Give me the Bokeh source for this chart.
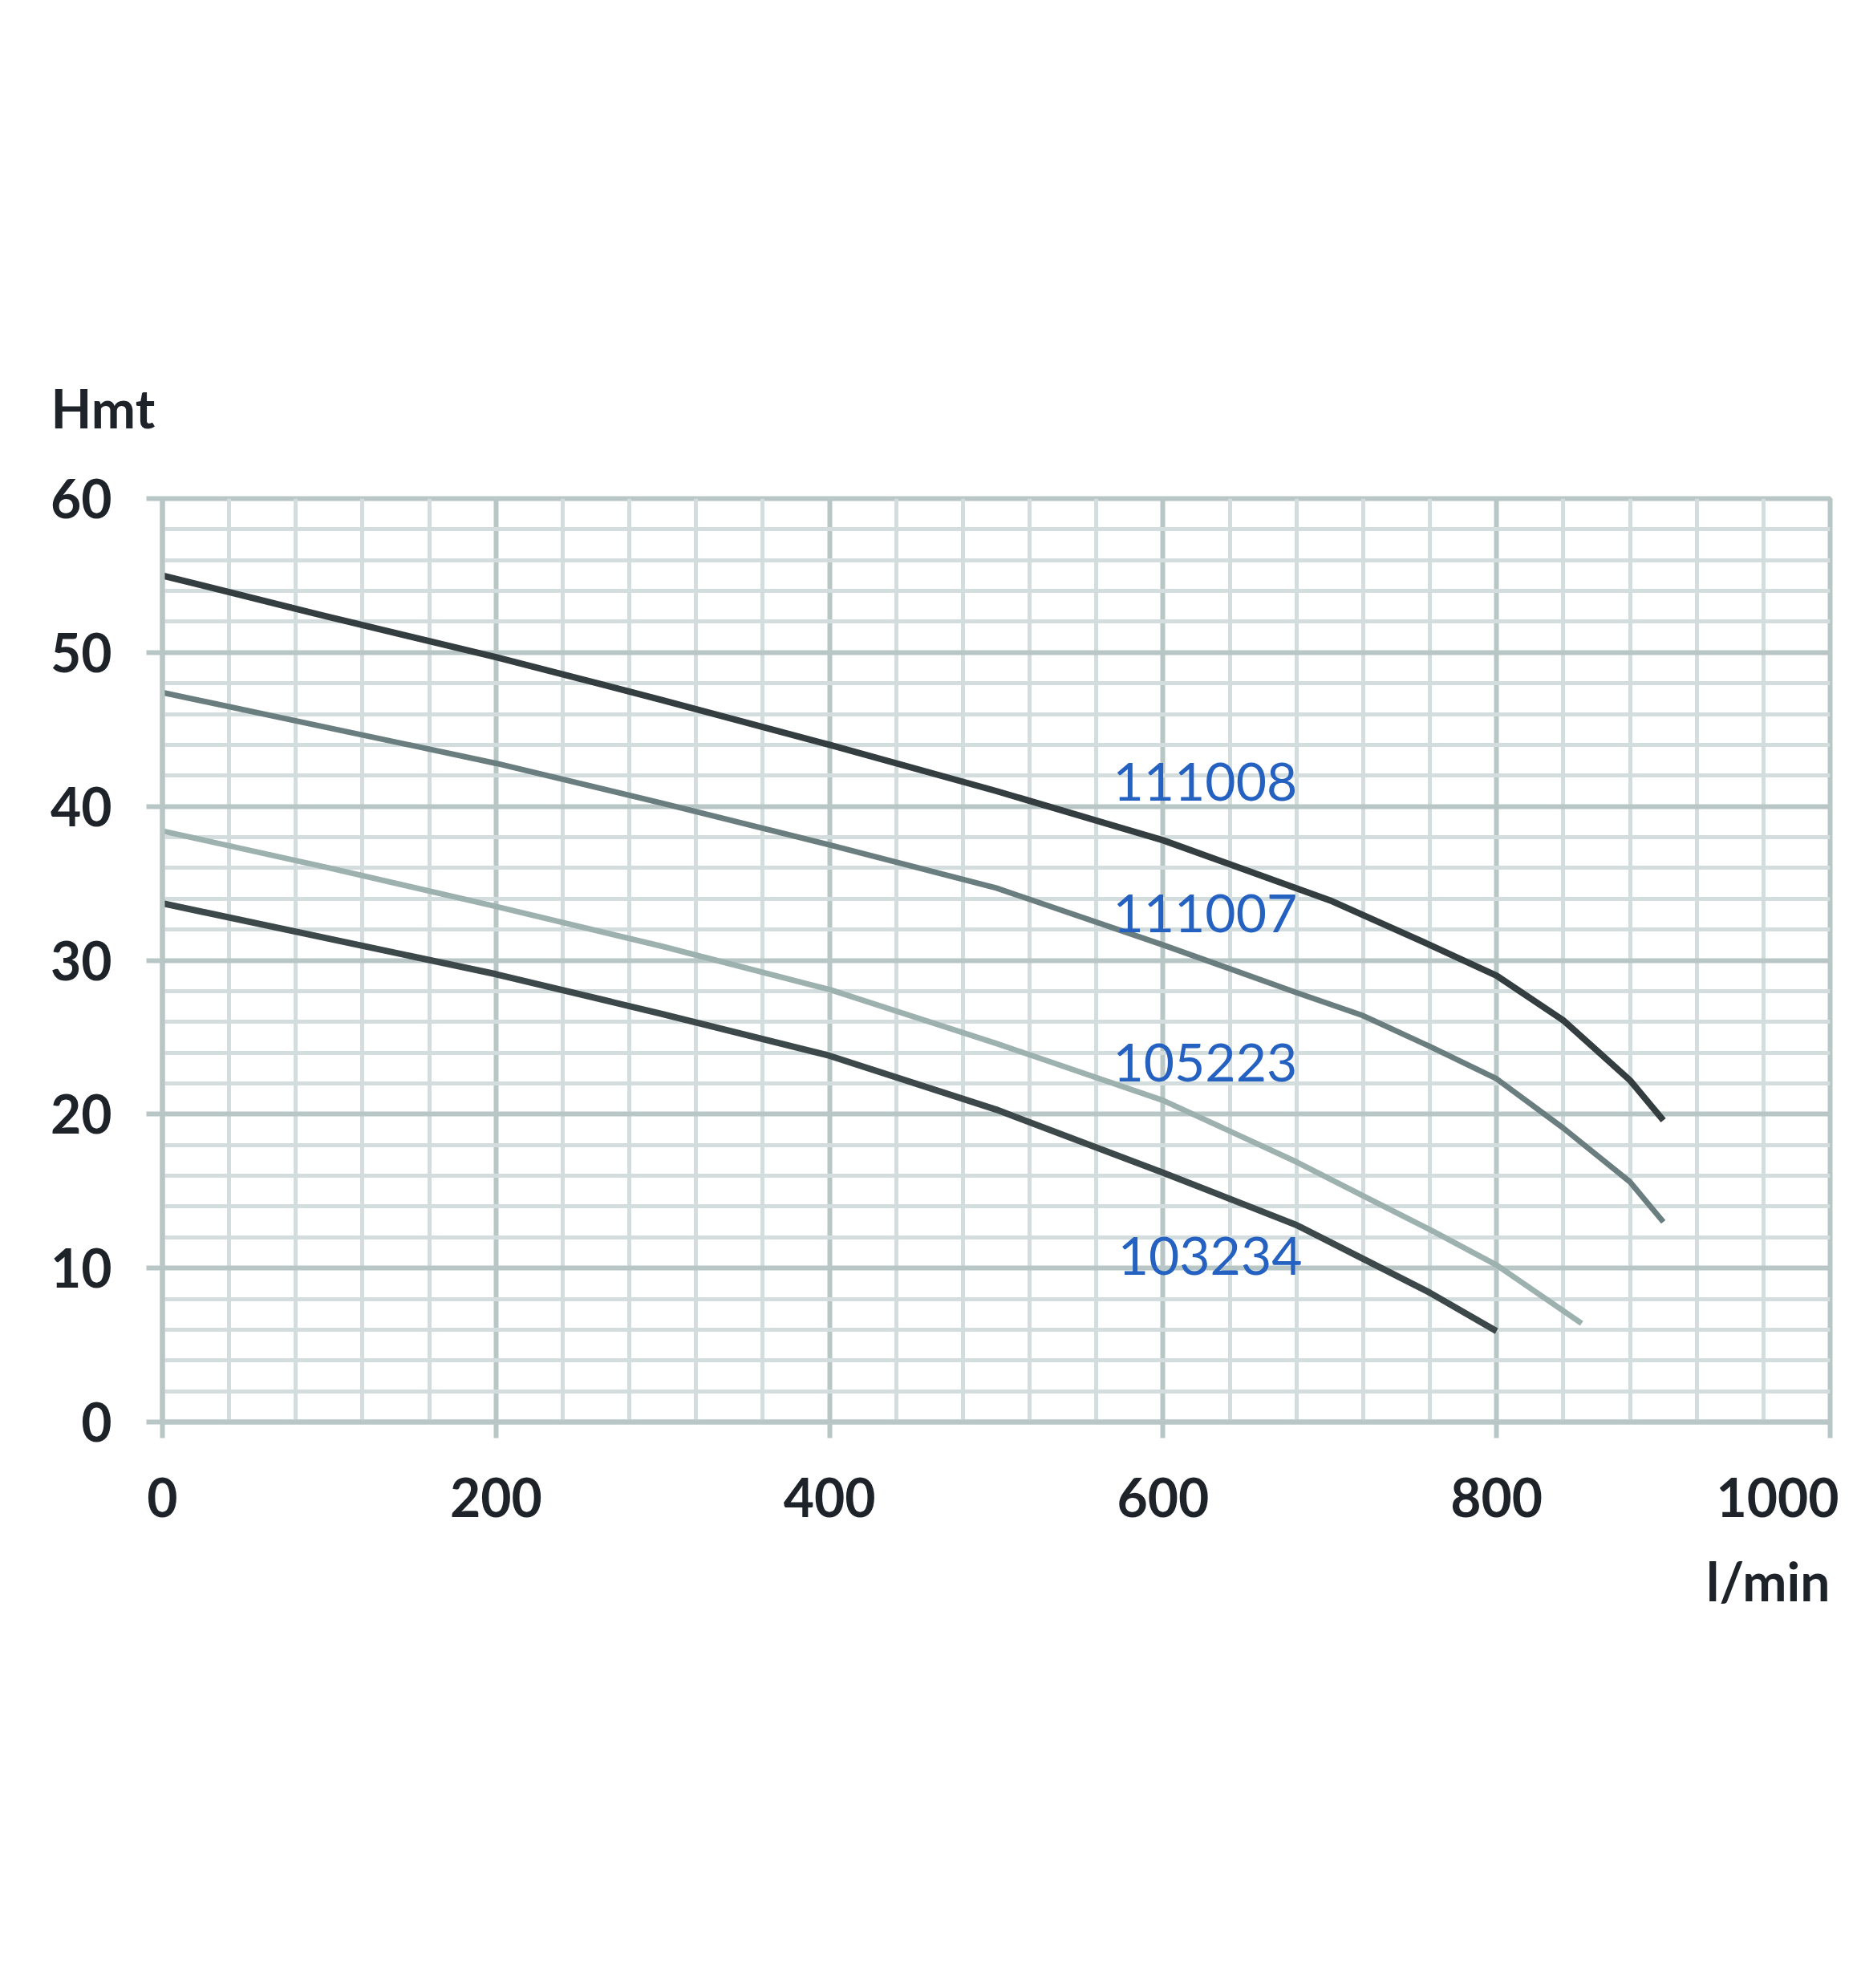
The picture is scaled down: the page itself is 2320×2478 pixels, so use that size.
from bokeh.plotting import figure
from bokeh.models import Range1d, SingleIntervalTicker, Title, ColumnDataSource
from bokeh.embed import file_html
from bokeh.resources import INLINE
from bokeh.core.properties import value

# ---- data ----
flow_111008 = [0, 100, 200, 300, 400, 500, 600, 700, 760, 800, 840, 880, 900]
head_111008 = [55.0, 52.3, 49.7, 46.9, 44.0, 41.0, 37.8, 33.9, 31.0, 29.0, 26.1, 22.2, 19.6]

flow_111007 = [0, 100, 200, 300, 400, 500, 600, 680, 720, 760, 800, 840, 880, 900]
head_111007 = [47.4, 45.1, 42.8, 40.2, 37.5, 34.7, 31.0, 27.9, 26.4, 24.4, 22.3, 19.1, 15.6, 13.0]

flow_105223 = [0, 100, 200, 300, 400, 500, 600, 680, 720, 760, 800, 851]
head_105223 = [38.4, 36.0, 33.5, 30.9, 28.1, 24.6, 20.9, 16.9, 14.7, 12.5, 10.2, 6.4]

flow_103234 = [0, 100, 200, 300, 400, 500, 600, 680, 720, 760, 800]
head_103234 = [33.7, 31.4, 29.1, 26.5, 23.8, 20.3, 16.2, 12.8, 10.6, 8.4, 5.9]

curve_names = ["111008", "111007", "105223", "103234"]
label_x = [570, 570, 570, 573]
label_y = [41.6, 33.05, 23.35, 10.8]

y_title = "Hmt"
x_title = "l/min"

# ---- styling ----
FONT = "Lato"
TXT = "#1e2329"
MAJOR = "#b8c6c6"
MINOR = "#d3dddd"
BLUE = "#2461c0"

p = figure(width=2292, height=2460, output_backend="svg", toolbar_location=None,
           x_range=Range1d(0, 1000), y_range=Range1d(0, 60),
           min_border_left=202, min_border_right=11, min_border_top=621,
           min_border_bottom=688)
p.background_fill_color = "white"
p.border_fill_color = "white"
p.outline_line_color = MAJOR
p.outline_line_width = 6

p.xaxis.ticker = SingleIntervalTicker(interval=200, num_minor_ticks=5)
p.yaxis.ticker = SingleIntervalTicker(interval=10, num_minor_ticks=5)

for g in (p.xgrid, p.ygrid):
    g.grid_line_color = MAJOR
    g.grid_line_width = 6
    g.minor_grid_line_color = MINOR
    g.minor_grid_line_width = 5

for ax in (p.xaxis, p.yaxis):
    ax.axis_line_color = MAJOR
    ax.axis_line_width = 6
    ax.major_tick_line_color = MAJOR
    ax.major_tick_line_width = 6
    ax.major_tick_out = 20
    ax.major_tick_in = 0
    ax.minor_tick_line_color = None
    ax.major_label_text_font = FONT
    ax.major_label_text_font_style = "bold"
    ax.major_label_text_font_size = "66px"
    ax.major_label_text_color = TXT

p.yaxis.major_label_standoff = 43
p.xaxis.major_label_standoff = 49

# ---- curves ----
series = [
    (flow_111008, head_111008, "#343d40", 8),
    (flow_111007, head_111007, "#6b7e7f", 7),
    (flow_105223, head_105223, "#9db1af", 7),
    (flow_103234, head_103234, "#3d484a", 8),
]
for xs, ys, col, w in series:
    p.line(xs, ys, line_color=col, line_width=w, line_join="round", line_cap="butt")

src = ColumnDataSource(dict(x=label_x, y=label_y, t=curve_names))
p.text(x="x", y="y", text="t", source=src, text_font=value(FONT),
       text_font_size="66px", text_color=BLUE, text_align="left",
       text_baseline="middle")

# ---- axis titles ----
p.add_layout(Title(text=y_title, align="left", vertical_align="bottom", offset=-139,
                   standoff=148, text_font=FONT, text_font_style="bold",
                   text_font_size="66px", text_color=TXT), "above")
p.add_layout(Title(text=x_title, align="right", vertical_align="top", offset=0,
                   standoff=74, text_font=FONT, text_font_style="bold",
                   text_font_size="66px", text_color=TXT), "below")

open("out.html", "w").write(file_html(p, INLINE))
